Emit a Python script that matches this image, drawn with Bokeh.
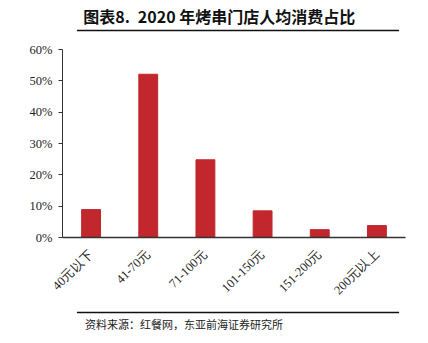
from bokeh.plotting import figure
from bokeh.layouts import column
from bokeh.models import NumeralTickFormatter, FixedTicker, Range1d
from bokeh.core.properties import value
from bokeh.embed import file_html
from bokeh.resources import INLINE

categories = ["40元以下", "41-70元", "71-100元", "101-150元", "151-200元", "200元以上"]
shares = [0.089, 0.521, 0.248, 0.085, 0.025, 0.038]
y_ticks = [0, 0.1, 0.2, 0.3, 0.4, 0.5, 0.6]
title_a = "图表8."
title_b = "2020 年烤串门店人均消费占比"
source = "资料来源：红餐网，东亚前海证券研究所"

W, H = 428, 343
TOP_H, BOT_H = 38, 38
MAIN_H = H - TOP_H - BOT_H


def band(h):
    f = figure(width=W, height=h, x_range=Range1d(0, W), y_range=Range1d(h, 0),
               output_backend="svg", toolbar_location=None,
               min_border=0, min_border_left=0, min_border_right=0,
               min_border_top=0, min_border_bottom=0)
    f.axis.visible = False
    f.grid.visible = False
    f.outline_line_color = None
    return f


# header band (pixel coordinates of the band)
top = band(TOP_H)
top.text(x=[26], y=[15], text=[title_a], text_font=value("Noto Sans CJK SC"),
         text_font_style="bold", text_font_size="16px", text_color="#111111",
         text_baseline="middle")
top.text(x=[94], y=[15], text=[title_b], text_font=value("Noto Sans CJK SC"),
         text_font_style="bold", text_font_size="16px", text_color="#111111",
         text_baseline="middle")
top.segment(x0=[18], y0=[30], x1=[420], y1=[30], line_color="#111111", line_width=1.5)

# main chart
p = figure(width=W, height=MAIN_H, x_range=categories, y_range=Range1d(0, 0.6),
           output_backend="svg", toolbar_location=None,
           min_border_left=62, min_border_right=23,
           min_border_top=49 - TOP_H, min_border_bottom=(H - BOT_H) - 240)
p.x_range.range_padding = 0
p.vbar(x=categories, top=shares, width=0.33, color="#C1272D")

p.outline_line_color = None
p.grid.grid_line_color = None

p.yaxis.ticker = FixedTicker(ticks=y_ticks)
p.yaxis.formatter = NumeralTickFormatter(format="0%")
p.yaxis.major_tick_in = 0
p.yaxis.major_tick_out = 4
p.yaxis.minor_tick_line_color = None
p.yaxis.axis_line_color = "#333333"
p.yaxis.major_tick_line_color = "#333333"
p.yaxis.major_label_text_font = "Liberation Serif"
p.yaxis.major_label_text_font_size = "12.5px"
p.yaxis.major_label_text_color = "#222222"
p.yaxis.major_label_standoff = 6

p.xaxis.major_tick_line_color = None
p.xaxis.axis_line_color = "#333333"
p.xaxis.axis_line_width = 1.5
p.xaxis.major_label_orientation = 0.785
p.xaxis.major_label_text_font = "Liberation Serif"
p.xaxis.major_label_text_font_size = "12.5px"
p.xaxis.major_label_text_color = "#222222"
p.xaxis.major_label_standoff = 8

# footer band
bot = band(BOT_H)
bot.segment(x0=[18], y0=[312 - (H - BOT_H)], x1=[420], y1=[312 - (H - BOT_H)],
            line_color="#111111", line_width=1.5)
bot.text(x=[28], y=[323 - (H - BOT_H)], text=[source], text_font=value("Noto Sans CJK SC"),
         text_font_size="11px", text_color="#222222", text_baseline="middle")

layout = column(top, p, bot, spacing=0)
open("out.html", "w").write(file_html(layout, INLINE))
